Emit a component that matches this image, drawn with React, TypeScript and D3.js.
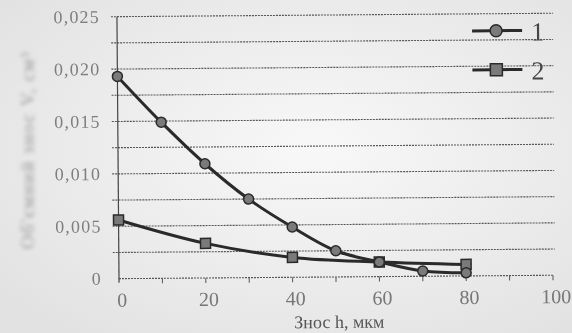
import React from "react";
import * as d3 from "d3";

const series1X = [0, 10, 20, 30, 40, 50, 60, 70, 80];
const series1Y = [0.0193, 0.0149, 0.0109, 0.0075, 0.0048, 0.0025, 0.0014, 0.0005, 0.0003];
const series2X = [0, 20, 40, 60, 80];
const series2Y = [0.0056, 0.0033, 0.0019, 0.0014, 0.0011];
const xTicks = [0, 20, 40, 60, 80, 100];
const yTicks = [0, 0.005, 0.01, 0.015, 0.02, 0.025];
const gridValues = [0.0025, 0.005, 0.0075, 0.01, 0.0125, 0.015, 0.0175, 0.02, 0.0225, 0.025];
const xMinorTicks = [10, 20, 30, 40, 50, 60, 70, 80, 90, 100];
const legendLabels = ["1", "2"];
const xTitle = "Знос h, мкм";
const yTitle = "Об'ємний знос V, см³";

const W = 572;
const H = 333;

export default function App() {
  const x = d3.scaleLinear().domain([0, 100]).range([118, 552]);
  const y = d3.scaleLinear().domain([0, 0.025]).range([277, 15]);
  const line = d3
    .line<[number, number]>()
    .x((d) => x(d[0]))
    .y((d) => y(d[1]))
    .curve(d3.curveCatmullRom.alpha(0.5));
  const s1 = series1X.map((v, i) => [v, series1Y[i]] as [number, number]);
  const s2 = series2X.map((v, i) => [v, series2Y[i]] as [number, number]);
  const dark = "#2a2a2a";
  const markFill = "#7a7a7a";
  const fmt = (v: number) => (v === 0 ? "0" : d3.format(".3f")(v).replace(".", ","));

  return (
    <svg
      width={W}
      height={H}
      style={{ position: "absolute", left: 0, top: 0, display: "block" }}
      fontFamily="'Liberation Serif', 'DejaVu Serif', serif"
    >
      <defs>
        <radialGradient id="bg" cx="55%" cy="45%" r="70%">
          <stop offset="0%" stopColor="#f8f8f8" />
          <stop offset="100%" stopColor="#e2e2e2" />
        </radialGradient>
        <filter id="blur" x="-20%" y="-20%" width="140%" height="140%">
          <feGaussianBlur stdDeviation="2" />
        </filter>
        <filter id="soft" x="-5%" y="-5%" width="110%" height="110%">
          <feGaussianBlur stdDeviation="0.5" />
        </filter>
      </defs>
      <rect x={0} y={0} width={W} height={H} fill="url(#bg)" />

      {/* y axis title, blurred as in the photo */}
      <text
        transform={`translate(34, 150) rotate(-90)`}
        textAnchor="middle"
        fontSize={19}
        letterSpacing={1.4}
        fill="#9a9a9a"
        filter="url(#blur)"
      >
        {yTitle}
      </text>

      <g filter="url(#soft)">
        <g transform={`rotate(-0.45, 330, 150)`}>
          {/* gridlines */}
          {gridValues.map((g) => (
            <line
              key={g}
              x1={x(0) - 6}
              x2={x(100) + 2}
              y1={y(g)}
              y2={y(g)}
              stroke="#555"
              strokeWidth={1.1}
              strokeDasharray="2,1"
            />
          ))}
          {/* x axis */}
          <line x1={x(0)} x2={x(100)} y1={y(0)} y2={y(0)} stroke="#555" strokeWidth={1.1} strokeDasharray="2,1" />
          {xMinorTicks.map((t) => (
            <line key={t} x1={x(t)} x2={x(t)} y1={y(0)} y2={y(0) + 5} stroke="#555" strokeWidth={1} />
          ))}
          {/* y axis */}
          <line x1={x(0)} x2={x(0)} y1={y(0.025)} y2={y(0) + 4} stroke="#444" strokeWidth={1.2} />

          {/* series */}
          <path d={line(s2) || ""} fill="none" stroke={dark} strokeWidth={3} />
          <path d={line(s1) || ""} fill="none" stroke={dark} strokeWidth={3} />
          {s2.map((d, i) => (
            <rect
              key={"b" + i}
              x={x(d[0]) - 5}
              y={y(d[1]) - 5}
              width={10}
              height={10}
              fill={markFill}
              stroke={dark}
              strokeWidth={1.5}
            />
          ))}
          {s1.map((d, i) => (
            <circle key={"a" + i} cx={x(d[0])} cy={y(d[1])} r={5} fill={markFill} stroke={dark} strokeWidth={1.5} />
          ))}

          {/* y tick labels */}
          {yTicks.map((t) => (
            <text key={t} x={101} y={y(t) + 6} textAnchor="end" fontSize={18} letterSpacing={1.2} fill="#7e7e7e">
              {fmt(t)}
            </text>
          ))}
          {/* x tick labels */}
          {xTicks.map((t) => (
            <text key={t} x={x(t) + 3} y={305} textAnchor="middle" fontSize={20} fill="#777">
              {t}
            </text>
          ))}
          <text x={338} y={328} textAnchor="middle" fontSize={18} fill="#555">
            {xTitle}
          </text>

          {/* legend */}
          {legendLabels.map((lab, i) => {
            const ly = 32 + i * 39;
            return (
              <g key={lab}>
                <line x1={473} x2={523} y1={ly} y2={ly} stroke={dark} strokeWidth={3} />
                {i === 0 ? (
                  <circle cx={497} cy={ly} r={6} fill={markFill} stroke={dark} strokeWidth={1.5} />
                ) : (
                  <rect x={491} y={ly - 6} width={12} height={12} fill={markFill} stroke={dark} strokeWidth={1.5} />
                )}
                <text x={532} y={ly + 10} fontSize={26} fill="#444">
                  {lab}
                </text>
              </g>
            );
          })}
        </g>
      </g>
    </svg>
  );
}
